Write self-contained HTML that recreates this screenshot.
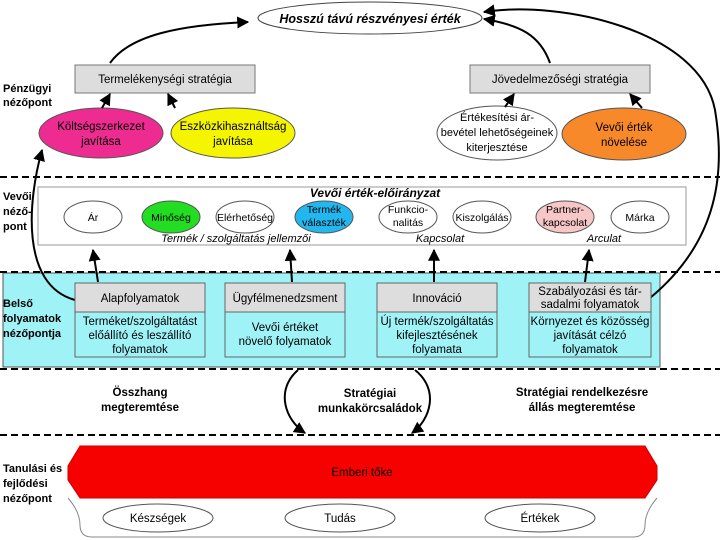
<!DOCTYPE html>
<html><head><meta charset="utf-8"><style>
html,body{margin:0;padding:0;background:#fff;}
svg{display:block;font-family:"Liberation Sans",sans-serif;}
</style></head><body>
<svg width="720" height="540" viewBox="0 0 720 540" xmlns="http://www.w3.org/2000/svg">
<defs>
<marker id="a" viewBox="0 0 10 10" refX="9" refY="5" markerWidth="6" markerHeight="6" orient="auto"><path d="M0,0L10,5L0,10z" fill="#000"/></marker>
</defs>
<rect x="3" y="273" width="657" height="94" fill="#9ff3f7" stroke="#555" stroke-width="1"/>
<g stroke="#000" stroke-width="2" stroke-dasharray="7,4">
<line x1="0" y1="177" x2="720" y2="177"/>
<line x1="0" y1="272" x2="720" y2="272"/>
<line x1="0" y1="369" x2="720" y2="369"/>
<line x1="0" y1="435" x2="720" y2="435"/>
</g>
<ellipse cx="370" cy="18" rx="112" ry="16" fill="#fff" stroke="#444"/>
<text x="370" y="23" text-anchor="middle" font-size="12.5" font-weight="bold" font-style="italic">Hosszú távú részvényesi érték</text>
<rect x="75" y="65" width="180" height="28" fill="#ddd" stroke="#777"/>
<text x="165" y="83" text-anchor="middle" font-size="11.5">Termelékenységi stratégia</text>
<rect x="470" y="65" width="180" height="28" fill="#ddd" stroke="#777"/>
<text x="560" y="83" text-anchor="middle" font-size="11.5">Jövedelmezőségi stratégia</text>
<text x="3" y="92" font-size="11" font-weight="bold">Pénzügyi</text>
<text x="3" y="106" font-size="11" font-weight="bold">nézőpont</text>
<ellipse cx="101" cy="133" rx="62" ry="25" fill="#ee2b91" stroke="#555"/>
<text x="101" y="130" text-anchor="middle" font-size="11.5">Költségszerkezet</text>
<text x="101" y="145" text-anchor="middle" font-size="11.5">javítása</text>
<ellipse cx="233" cy="133" rx="62" ry="25" fill="#f5f500" stroke="#555"/>
<text x="233" y="130" text-anchor="middle" font-size="11.5">Eszközkihasználtság</text>
<text x="233" y="145" text-anchor="middle" font-size="11.5">javítása</text>
<ellipse cx="497" cy="133" rx="60" ry="27" fill="#fff" stroke="#555"/>
<text x="497" y="121" text-anchor="middle" font-size="11">Értékesítési ár-</text>
<text x="497" y="136" text-anchor="middle" font-size="11">bevétel lehetőségeinek</text>
<text x="497" y="151" text-anchor="middle" font-size="11">kiterjesztése</text>
<ellipse cx="624" cy="134" rx="62" ry="26" fill="#f7892b" stroke="#555"/>
<text x="624" y="131" text-anchor="middle" font-size="11.5">Vevői érték</text>
<text x="624" y="146" text-anchor="middle" font-size="11.5">növelése</text>
<g stroke="#000" stroke-width="2" fill="none" marker-end="url(#a)">
<path d="M110,63 C130,35 180,25 248,22"/>
<path d="M550,63 C540,35 520,25 484,19"/>
<path d="M102,108 L110,94"/>
<path d="M175,108 L168,94"/>
<path d="M505,107 L514,94"/>
<path d="M642,108 L630,94"/>
<path d="M75,300 C20,285 28,200 42,150"/>
<path d="M650,298 C720,240 725,170 715,110 C700,30 560,0 484,12"/>
<path d="M98,282 L93,250"/>
<path d="M292,282 L290,250"/>
<path d="M434,282 L434,250"/>
<path d="M585,282 L589,250"/>
<path d="M298,370 C275,390 285,420 305,433"/>
<path d="M415,370 C440,390 430,420 412,433"/>
</g>
<rect x="38" y="187" width="648" height="58" fill="#fff" stroke="#999"/>
<text x="375" y="197" text-anchor="middle" font-size="12" font-weight="bold" font-style="italic">Vevői érték-előirányzat</text>
<text x="3" y="200" font-size="11" font-weight="bold">Vevői</text>
<text x="3" y="215" font-size="11" font-weight="bold">néző-</text>
<text x="3" y="230" font-size="11" font-weight="bold">pont</text>
<g stroke="#555">
<ellipse cx="93" cy="217" rx="29" ry="16" fill="#fff"/>
<ellipse cx="171" cy="217" rx="29" ry="16" fill="#22dd22"/>
<ellipse cx="245" cy="217" rx="29" ry="16" fill="#fff"/>
<ellipse cx="324" cy="217" rx="29" ry="16" fill="#22b7ee"/>
<ellipse cx="408" cy="217" rx="29" ry="16" fill="#fff"/>
<ellipse cx="482" cy="217" rx="29" ry="16" fill="#fff"/>
<ellipse cx="565" cy="217" rx="29" ry="16" fill="#f7c6c6"/>
<ellipse cx="640" cy="217" rx="29" ry="16" fill="#fff"/>
</g>
<g font-size="10.5" text-anchor="middle">
<text x="93" y="221">Ár</text>
<text x="171" y="221">Minőség</text>
<text x="245" y="221">Elérhetőség</text>
<text x="324" y="213">Termék</text>
<text x="324" y="226">választék</text>
<text x="408" y="213">Funkcio-</text>
<text x="408" y="226">nalitás</text>
<text x="482" y="221">Kiszolgálás</text>
<text x="565" y="213">Partner-</text>
<text x="565" y="226">kapcsolat</text>
<text x="640" y="221">Márka</text>
</g>
<g font-size="11" font-style="italic" text-anchor="middle">
<text x="236" y="242">Termék / szolgáltatás jellemzői</text>
<text x="440" y="242">Kapcsolat</text>
<text x="604" y="242">Arculat</text>
</g>
<text x="3" y="307" font-size="11" font-weight="bold">Belső</text>
<text x="3" y="322" font-size="11" font-weight="bold">folyamatok</text>
<text x="3" y="337" font-size="11" font-weight="bold">nézőpontja</text>
<g stroke="#666">
<rect x="75" y="283" width="130" height="29" fill="#ddd"/><rect x="75" y="312" width="130" height="45" fill="#9ff3f7"/>
<rect x="225" y="283" width="120" height="29" fill="#ddd"/><rect x="225" y="312" width="120" height="45" fill="#9ff3f7"/>
<rect x="377" y="283" width="120" height="29" fill="#ddd"/><rect x="377" y="312" width="120" height="45" fill="#9ff3f7"/>
<rect x="529" y="283" width="122" height="29" fill="#ddd"/><rect x="529" y="312" width="122" height="45" fill="#9ff3f7"/>
</g>
<g font-size="11.5" text-anchor="middle">
<text x="140" y="302">Alapfolyamatok</text>
<text x="140" y="325">Terméket/szolgáltatást</text>
<text x="140" y="339">előállító és leszállító</text>
<text x="140" y="353">folyamatok</text>
<text x="285" y="302">Ügyfélmenedzsment</text>
<text x="285" y="331">Vevői értéket</text>
<text x="285" y="345">növelő folyamatok</text>
<text x="437" y="302">Innováció</text>
<text x="437" y="325">Új termék/szolgáltatás</text>
<text x="437" y="339">kifejlesztésének</text>
<text x="437" y="353">folyamata</text>
<text x="590" y="295">Szabályozási és tár-</text>
<text x="590" y="308">sadalmi folyamatok</text>
<text x="590" y="325">Környezet és közösség</text>
<text x="590" y="339">javítását célzó</text>
<text x="590" y="353">folyamatok</text>
</g>
<g font-size="11.5" font-weight="bold" text-anchor="middle">
<text x="140" y="396">Összhang</text>
<text x="140" y="411">megteremtése</text>
<text x="370" y="397">Stratégiai</text>
<text x="370" y="412">munkakörcsaládok</text>
<text x="582" y="396">Stratégiai rendelkezésre</text>
<text x="582" y="411">állás megteremtése</text>
</g>
<text x="3" y="472" font-size="11" font-weight="bold">Tanulási és</text>
<text x="3" y="487" font-size="11" font-weight="bold">fejlődési</text>
<text x="3" y="502" font-size="11" font-weight="bold">nézőpont</text>
<path d="M68,498 Q80,512 80,525 Q80,537 92,537 L633,537 Q645,537 645,525 Q645,512 657,498" fill="#fff" stroke="#888"/>
<path d="M80,446 L645,446 L657,466 L657,480 L645,498 L80,498 L68,480 L68,466 Z" fill="#f70000" stroke="#c00"/>
<text x="362" y="476" text-anchor="middle" font-size="11.5">Emberi tőke</text>
<g stroke="#555" fill="#fff">
<ellipse cx="158" cy="518" rx="55" ry="14"/>
<ellipse cx="340" cy="518" rx="55" ry="14"/>
<ellipse cx="540" cy="518" rx="55" ry="14"/>
</g>
<g font-size="11.5" text-anchor="middle">
<text x="158" y="522">Készségek</text>
<text x="340" y="522">Tudás</text>
<text x="540" y="522">Értékek</text>
</g>
</svg>
</body></html>
